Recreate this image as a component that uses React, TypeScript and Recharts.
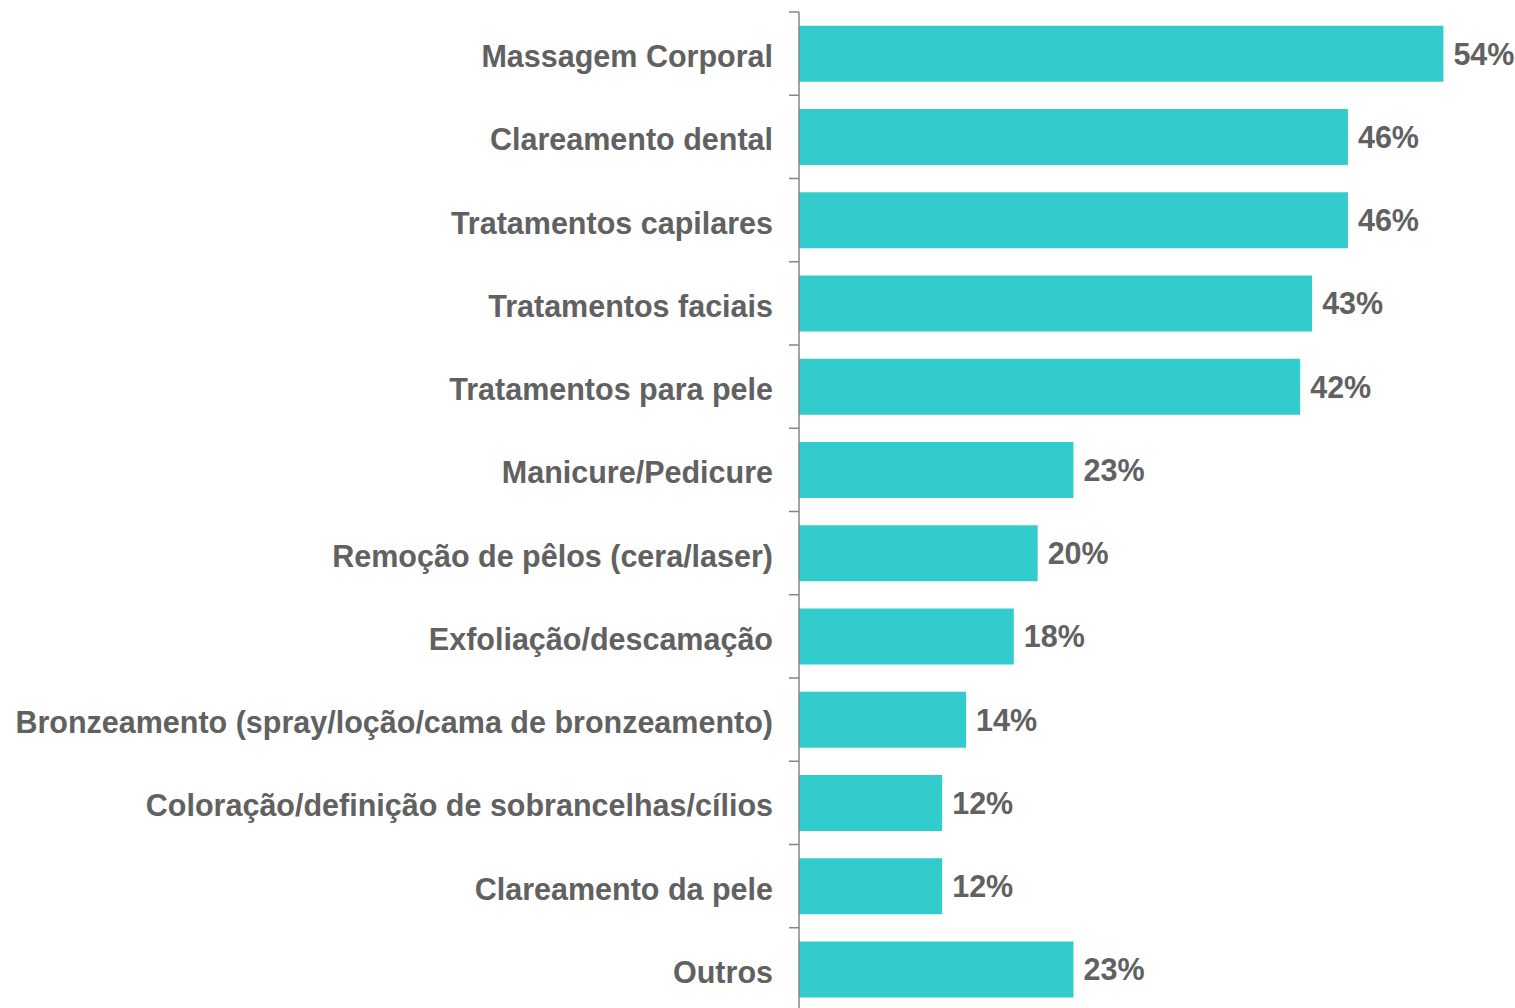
import { Bar, BarChart, LabelList, XAxis, YAxis } from "recharts";

const categories = [
  "Massagem Corporal",
  "Clareamento dental",
  "Tratamentos capilares",
  "Tratamentos faciais",
  "Tratamentos para pele",
  "Manicure/Pedicure",
  "Remoção de pêlos (cera/laser)",
  "Exfoliação/descamação",
  "Bronzeamento (spray/loção/cama de bronzeamento)",
  "Coloração/definição de sobrancelhas/cílios",
  "Clareamento da pele",
  "Outros",
];
const values = [54, 46, 46, 43, 42, 23, 20, 18, 14, 12, 12, 23];

const data = categories.map((name, i) => ({ name, value: values[i] }));

const TEXT = "#616161";
const FONT = "'Liberation Sans', Arial, sans-serif";
const BAND = (1011 - 12) / categories.length;

function CategoryTick(props: any) {
  const { x, y, payload } = props;
  return (
    <g>
      <line x1={x + 16} x2={x + 26} y1={y - BAND / 2} y2={y - BAND / 2} stroke="#868686" strokeWidth={1.5} />
      <text x={x} y={y} dy="0.44em" textAnchor="end" fill={TEXT} fontSize={30.5} fontWeight="bold" fontFamily={FONT}>
        {payload.value}
      </text>
    </g>
  );
}

export default function App() {
  return (
    <div style={{ position: "absolute", left: 0, top: 0, width: 1515, height: 1008, overflow: "hidden", background: "#fff" }}>
      <BarChart
        width={1515}
        height={1008}
        data={data}
        layout="vertical"
        margin={{ top: 12, right: 0, bottom: -3, left: 0 }}
        barCategoryGap="16.5%"
      >
        <XAxis type="number" domain={[0, 60]} hide />
        <YAxis
          type="category"
          dataKey="name"
          width={799}
          tickSize={0}
          tickMargin={26}
          axisLine={{ stroke: "#868686", strokeWidth: 1.5 }}
          tick={<CategoryTick />}
          interval={0}
        />
        <Bar dataKey="value" fill="#33CCCC" isAnimationActive={false}>
          <LabelList
            dataKey="value"
            position="right"
            offset={10}
            formatter={(v: any) => `${v}%`}
            fill={TEXT}
            fontSize={30.5}
            fontWeight="bold"
            fontFamily={FONT}
          />
        </Bar>
      </BarChart>
    </div>
  );
}
